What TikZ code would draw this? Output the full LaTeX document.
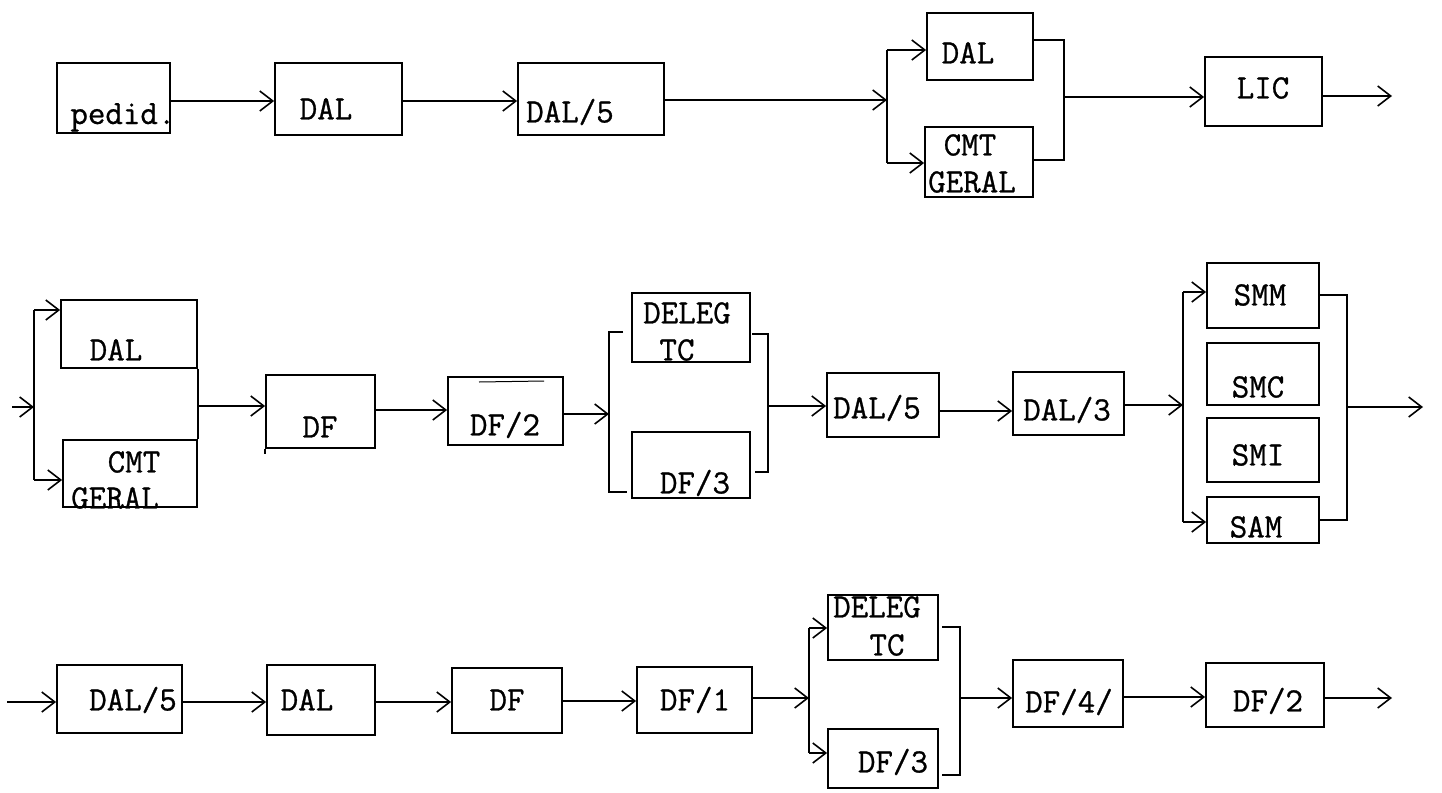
\documentclass[tikz,border=0pt]{standalone}
\usepackage{fontspec}
\newfontfamily\twfont{Latin Modern Mono}[FakeBold=0.8]
\usetikzlibrary{fit,arrows.meta}
\begin{document}
\begin{tikzpicture}[x=0.5pt,y=-0.5pt,
  boxst/.style={draw, inner sep=0pt, line width=0.9pt},
  lbl/.style={inner sep=0pt, text height=10.4pt, text depth=0pt, font=\fontsize{17}{20}\selectfont\twfont},
  ln/.style={line width=0.8pt},
  arr/.style={line width=0.8pt, -{Straight Barb[length=6.5pt,width=10pt,line width=0.8pt]}}]
\fill[white] (0,0) rectangle (1442,793);
\useasboundingbox (0,0) rectangle (1442,793);
\newcommand\bx[5]{\node[boxst, fit={(#2,#3) (#4,#5)}] (#1) {};}
% ---------------- Row 1 ----------------
\bx{pedid}{57}{63}{170}{133}
\node[inner sep=0pt, anchor=base west, font=\fontsize{17}{20}\selectfont\twfont] (pedidt) at (70,124) {pedid.};
\bx{dalA}{275}{63}{402}{135}
\node[lbl] (dalAt) at (326,109) {DAL};
\bx{dalfA}{518}{63}{664}{135}
\node[lbl] (dalfAt) at (570,112) {DAL/5};
\draw[arr] (pedid.east |- 0,101) -- (dalA.west |- 0,101);
\draw[arr] (dalA.east |- 0,101) -- (dalfA.west |- 0,101);
\coordinate (fA) at (887,100);
\coordinate (fAt) at (887,50);
\coordinate (fAb) at (887,163);
\draw[arr] (dalfA.east |- fA) -- (fA);
\draw[ln] (fAt) -- (fAb);
\bx{dalB}{927}{13}{1033}{80}
\node[lbl] (dalBt) at (968,53) {DAL};
\bx{cmtA}{925}{127}{1033}{197}
\node[lbl] (cmtAt) at (970,145) {CMT};
\node[lbl] (cmtAg) at (972,182) {GERAL};
\draw[arr] (fAt) -- (fAt -| dalB.west);
\draw[arr] (fAb) -- (fAb -| cmtA.west);
\coordinate (jAt) at (1064,40);
\coordinate (jAb) at (1064,160);
\coordinate (jA) at (1064,97);
\draw[ln] (jAt -| dalB.east) -- (jAt) -- (jAb) -- (jAb -| cmtA.east);
\bx{lic}{1205}{57}{1322}{126}
\node[lbl] (lict) at (1263,88) {LIC};
\draw[arr] (jA) -- (jA -| lic.west);
\coordinate (oA) at (1392,96);
\draw[arr] (lic.east |- oA) -- (oA);
% ---------------- Row 2 ----------------
\coordinate (iB) at (12,407);
\coordinate (fB) at (34,407);
\coordinate (fBt) at (34,310);
\coordinate (fBb) at (34,480);
\draw[arr] (iB) -- (fB);
\draw[ln] (fBt) -- (fBb);
\bx{dalC}{61}{300}{197}{368}
\node[lbl] (dalCt) at (116,350) {DAL};
\bx{cmtB}{63}{440}{197}{507}
\node[lbl] (cmtBt) at (134,462) {CMT};
\node[lbl] (cmtBg) at (115,498) {GERAL};
\draw[arr] (fBt) -- (fBt -| dalC.west);
\draw[arr] (fBb) -- (fBb -| cmtB.west);
\draw[ln] (dalC.south east) -- (cmtB.north east);
\bx{dfA}{266}{375}{375}{448}
\draw[ln] (dfA.south west) -- ++(0,5);
\node[lbl] (dfAt) at (320,427) {DF};
\draw[arr] (dalC.east |- 0,406) -- (dfA.west |- 0,406);
\bx{dftA}{448}{377}{563}{445}
\node[lbl] (dftAt) at (505,425) {DF/2};
\draw[line width=0.5pt] (479,382) -- (544,381);
\draw[arr] (dfA.east |- 0,410) -- (dftA.west |- 0,410);
\coordinate (fC) at (609,414);
\coordinate (fCt) at (609,332);
\coordinate (fCb) at (609,492);
\draw[arr] (dftA.east |- fC) -- (fC);
\draw[ln] (623,332) -- (fCt) -- (fCb) -- (627,492);
\bx{delegA}{632}{293}{750}{362}
\node[lbl] (delegAt) at (687,313) {DELEG};
\node[lbl] (delegAc) at (677,350) {TC};
\bx{dfthA}{632}{432}{750}{498}
\node[lbl] (dfthAt) at (695,483) {DF/3};
\coordinate (jCt) at (768,334);
\coordinate (jCb) at (768,472);
\coordinate (jC) at (768,406);
\draw[ln] (752,334) -- (jCt) -- (jCb) -- (755,472);
\bx{dalfB}{827}{373}{939}{437}
\node[lbl] (dalfBt) at (877,408) {DAL/5};
\draw[arr] (jC) -- (jC -| dalfB.west);
\bx{dalthr}{1013}{372}{1124}{435}
\node[lbl] (dalthrt) at (1067,410) {DAL/3};
\draw[arr] (dalfB.east |- 0,411) -- (dalthr.west |- 0,411);
\coordinate (fD) at (1183,405);
\coordinate (fDt) at (1183,292);
\coordinate (fDb) at (1183,522);
\draw[arr] (dalthr.east |- fD) -- (fD);
\draw[ln] (fDt) -- (fDb);
\bx{smm}{1207}{263}{1319}{328}
\node[lbl] (smmt) at (1260,295) {SMM};
\bx{smc}{1207}{343}{1319}{405}
\node[lbl] (smct) at (1258,387) {SMC};
\bx{smi}{1207}{418}{1319}{482}
\node[lbl] (smit) at (1258,455) {SMI};
\bx{sam}{1207}{497}{1319}{543}
\node[lbl] (samt) at (1256,527) {SAM};
\draw[arr] (fDt) -- (fDt -| smm.west);
\draw[arr] (fDb) -- (fDb -| sam.west);
\coordinate (jDt) at (1347,295);
\coordinate (jDb) at (1347,520);
\coordinate (jD) at (1347,407);
\coordinate (oD) at (1423,407);
\draw[ln] (jDt -| smm.east) -- (jDt) -- (jDb) -- (jDb -| sam.east);
\draw[arr] (jD) -- (oD);
% ---------------- Row 3 ----------------
\bx{dalfC}{57}{665}{182}{733}
\node[lbl] (dalfCt) at (133,700) {DAL/5};
\coordinate (iE) at (7,702);
\draw[arr] (iE) -- (iE -| dalfC.west);
\bx{dalD}{267}{665}{375}{735}
\node[lbl] (dalDt) at (307,700) {DAL};
\draw[arr] (dalfC.east |- 0,702) -- (dalD.west |- 0,702);
\bx{dfB}{452}{668}{562}{733}
\node[lbl] (dfBt) at (507,700) {DF};
\draw[arr] (dalD.east |- 0,702) -- (dfB.west |- 0,702);
\bx{dfone}{637}{667}{752}{733}
\node[lbl] (dfonet) at (695,700) {DF/1};
\draw[arr] (dfB.east |- 0,701) -- (dfone.west |- 0,701);
\coordinate (fE) at (809,698);
\coordinate (fEt) at (809,628);
\coordinate (fEb) at (809,753);
\draw[arr] (dfone.east |- fE) -- (fE);
\draw[ln] (fEt) -- (fEb);
\bx{delegB}{828}{595}{938}{660}
\node[lbl] (delegBt) at (877,607) {DELEG};
\node[lbl] (delegBc) at (887,645) {TC};
\bx{dfthB}{828}{729}{938}{788}
\node[lbl] (dfthBt) at (893,762) {DF/3};
\draw[arr] (fEt) -- (fEt -| delegB.west);
\draw[arr] (fEb) -- (fEb -| dfthB.west);
\coordinate (jEt) at (960,627);
\coordinate (jEb) at (960,775);
\coordinate (jE) at (960,698);
\draw[ln] (942,627) -- (jEt) -- (jEb) -- (942,775);
\bx{dffour}{1013}{660}{1123}{727}
\node[lbl] (dffourt) at (1069,702) {DF/4/};
\draw[arr] (jE) -- (jE -| dffour.west);
\bx{dftB}{1206}{663}{1324}{727}
\node[lbl] (dftBt) at (1268,701) {DF/2};
\draw[arr] (dffour.east |- 0,697) -- (dftB.west |- 0,697);
\coordinate (oE) at (1392,698);
\draw[arr] (dftB.east |- oE) -- (oE);
\end{tikzpicture}
\end{document}
